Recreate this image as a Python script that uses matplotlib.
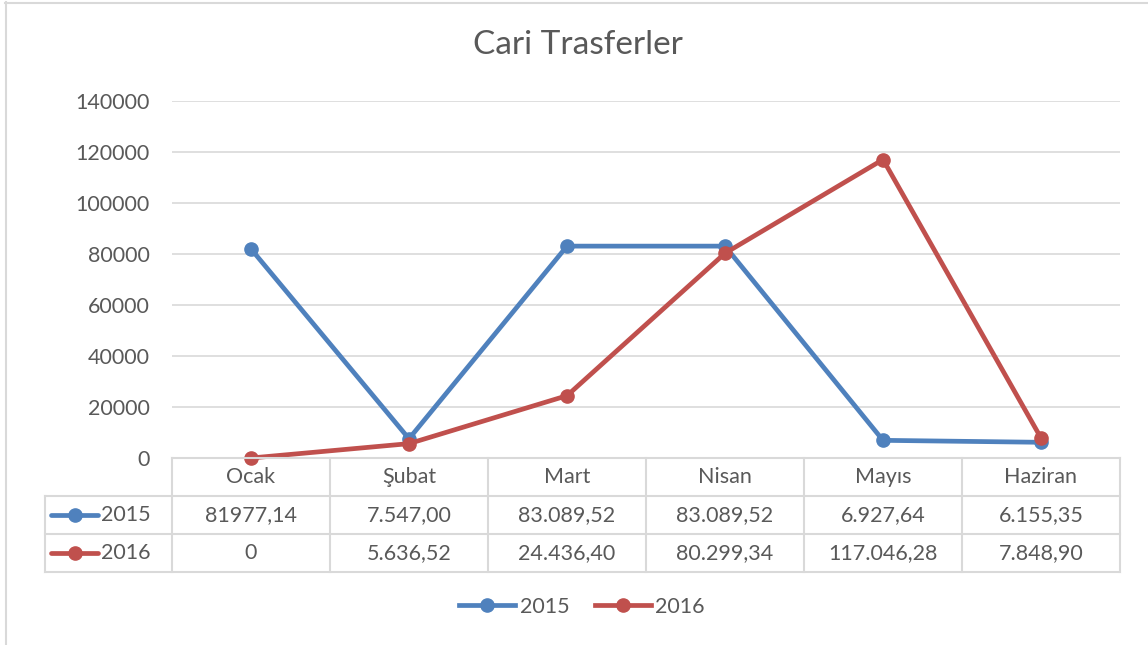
import matplotlib
matplotlib.use("Agg")
import matplotlib.pyplot as plt
from matplotlib.lines import Line2D

# ------------------------------
# DATA
# ------------------------------
months = ["Ocak", "Şubat", "Mart", "Nisan", "Mayıs", "Haziran"]
series_names = ["2015", "2016"]
values_2015 = [81977.14, 7547.00, 83089.52, 83089.52, 6927.64, 6155.35]
values_2016 = [0, 5636.52, 24436.40, 80299.34, 117046.28, 7848.90]
labels_2015 = ["81977,14", "7.547,00", "83.089,52", "83.089,52", "6.927,64", "6.155,35"]
labels_2016 = ["0", "5.636,52", "24.436,40", "80.299,34", "117.046,28", "7.848,90"]
y_ticks = [0, 20000, 40000, 60000, 80000, 100000, 120000, 140000]

colors = ["#4f81bd", "#c0504d"]
text_color = "#595959"
grid_color = "#d9d9d9"
fs = 15.5

plt.rcParams["font.family"] = ["Lato", "DejaVu Sans"]

W, H = 1148, 645
fig = plt.figure(figsize=(W / 100, H / 100), dpi=100)


def fx(px):
    return px / W


def fy(py):
    return 1 - py / H


# chart border
fig.add_artist(Line2D([fx(5.5), fx(5.5)], [fy(2), fy(645)], color=grid_color, lw=1.5))
fig.add_artist(Line2D([fx(5), fx(1148)], [fy(2.5), fy(2.5)], color=grid_color, lw=1.5))

# plot area
left, right, top, bottom = 172, 1120, 101, 458
ax = fig.add_axes([fx(left), fy(bottom), fx(right - left), (bottom - top) / H])
x = range(len(months))
for vals, name, c in zip([values_2015, values_2016], series_names, colors):
    ax.plot(x, vals, color=c, lw=3.4, marker="o", markersize=9.5, label=name,
            solid_capstyle="round", zorder=3, clip_on=False)

ax.set_xlim(-0.5, len(months) - 0.5)
ax.set_ylim(0, 140000)
ax.set_yticks(y_ticks)
ax.set_yticklabels([str(v) for v in y_ticks], fontsize=fs, color=text_color)
ax.tick_params(axis="y", length=0, pad=16)
ax.set_xticks([])
ax.grid(axis="y", color=grid_color, lw=1.2)
ax.set_axisbelow(True)
for s in ax.spines.values():
    s.set_visible(False)

fig.text(0.503, fy(45), "Cari Trasferler", ha="center", va="center",
         fontsize=24, color=text_color)

# ------------------------------
# DATA TABLE
# ------------------------------
col_w = (right - left) / len(months)
row_tops = [458, 496, 534, 572]
tbl_left = 45

for py in row_tops:
    x0 = left if py == 458 else tbl_left
    fig.add_artist(Line2D([fx(x0), fx(right)], [fy(py), fy(py)], color=grid_color, lw=1.5))
for k in range(len(months) + 1):
    px = left + k * col_w
    fig.add_artist(Line2D([fx(px), fx(px)], [fy(458), fy(572)], color=grid_color, lw=1.5))
fig.add_artist(Line2D([fx(tbl_left), fx(tbl_left)], [fy(496), fy(572)], color=grid_color, lw=1.5))

for i, m in enumerate(months):
    cx = left + (i + 0.5) * col_w
    fig.text(fx(cx), fy(477), m, ha="center", va="center", fontsize=fs, color=text_color)
    fig.text(fx(cx), fy(515), labels_2015[i], ha="center", va="center", fontsize=fs, color=text_color)
    fig.text(fx(cx), fy(553), labels_2016[i], ha="center", va="center", fontsize=fs, color=text_color)

for name, c, py in zip(series_names, colors, [515, 553]):
    fig.add_artist(Line2D([fx(51), fx(98)], [fy(py), fy(py)], color=c, lw=3.4,
                          solid_capstyle="round"))
    fig.add_artist(Line2D([fx(75)], [fy(py)], color=c, marker="o", markersize=9.5))
    fig.text(fx(101), fy(py), name, ha="left", va="center", fontsize=fs, color=text_color)

# ------------------------------
# LEGEND
# ------------------------------
handles = [Line2D([0], [0], color=c, lw=3.4, marker="o", markersize=9.5) for c in colors]
fig.legend(handles, series_names, loc="center", bbox_to_anchor=(fx(582), fy(607)),
           ncol=2, frameon=False, fontsize=fs, labelcolor=text_color,
           handlelength=2.6, handletextpad=0.2, columnspacing=1.2)

fig.savefig("out.png", dpi=100, facecolor="white")
